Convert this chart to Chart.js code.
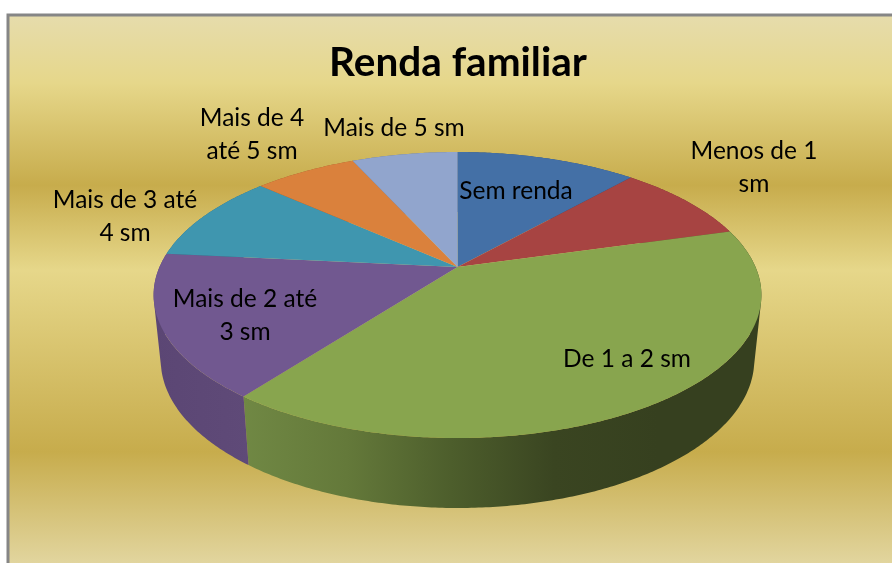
<!DOCTYPE html>
<html lang="en">
<head>
    <meta charset="UTF-8">
    <title>Renda familiar</title>
    <script src="https://cdn.jsdelivr.net/npm/chart.js"></script>
    <style>
        html, body { margin: 0; padding: 0; background: #fff; overflow: hidden; }
        canvas { display: block; }
    </style>
</head>
<body>
    <canvas id="rendaChart" width="892" height="563"></canvas>
    <script>
        // Values (percent)
        const categories = ['Sem renda', 'Menos de 1 sm', 'De 1 a 2 sm', 'Mais de 2 até 3 sm', 'Mais de 3 até 4 sm', 'Mais de 4 até 5 sm', 'Mais de 5 sm'];
        const shares = [11.6, 9, 39.7, 16.2, 10, 6.6, 6.8];
        const chartTitle = 'Renda familiar';

        const topColors = ['#4470A6', '#A74442', '#88A54E', '#715890', '#3F96AF', '#DA813C', '#91A5CD'];
        // wall shading, left to right
        const wallColors = [
            ['#2f4e74', '#2f4e74'],
            ['#742f2e', '#742f2e'],
            ['#708844', '#64793a', '#4d5e2c', '#3a4521', '#36401f', '#36401f'],
            ['#5b4674', '#5f4a78'],
            ['#2c687a', '#2c687a'],
            ['#98592a', '#98592a'],
            ['#65738f', '#65738f']
        ];

        // where each label sits, wrapped as in the original
        const labelPlaces = [
            { x: 516, y: 191, lines: ['Sem renda'] },
            { x: 754, y: 151, lines: ['Menos de 1', 'sm'] },
            { x: 627, y: 359, lines: ['De 1 a 2 sm'] },
            { x: 245, y: 299, lines: ['Mais de 2 até', '3 sm'] },
            { x: 125, y: 200, lines: ['Mais de 3 até', '4 sm'] },
            { x: 252, y: 118, lines: ['Mais de 4', 'até 5 sm'] },
            { x: 394, y: 128, lines: ['Mais de 5 sm'] }
        ];

        // Perspective of the disc: apex y, half axes, tilt
        const tilt = 0.196;
        const topDisc = { cx: 457.5, cy: 267, a: 298, b: 137.5 };
        const bottomDisc = { cx: 457.5, cy: 331, a: 291, b: 142.3 };

        function project(disc, angle) {
            const u = Math.cos(angle), v = Math.sin(angle);
            const w = 1 - tilt * v;
            return { x: disc.cx + disc.a * u / w, y: disc.cy + disc.b * v / w };
        }

        function arcPoints(disc, start, end) {
            const pts = [];
            const steps = Math.max(2, Math.ceil((end - start) / 0.01));
            for (let i = 0; i <= steps; i++) {
                pts.push(project(disc, start + (end - start) * i / steps));
            }
            return pts;
        }

        function addPolygon(ctx, pts) {
            pts.forEach((p, i) => i ? ctx.lineTo(p.x, p.y) : ctx.moveTo(p.x, p.y));
            ctx.closePath();
        }

        // same winding for every strip, so overlaps near the silhouette stay filled
        function clockwise(pts) {
            let area = 0;
            pts.forEach((p, i) => {
                const q = pts[(i + 1) % pts.length];
                area += p.x * q.y - q.x * p.y;
            });
            return area < 0 ? pts.slice().reverse() : pts;
        }

        // Gold office background and the grey frame
        const goldBackground = {
            id: 'goldBackground',
            beforeDraw(chart) {
                const ctx = chart.ctx;
                const left = 8, top = 15, bottom = 582;
                const grad = ctx.createLinearGradient(0, top, 0, bottom);
                grad.addColorStop(0, '#E6DCAC');
                grad.addColorStop(0.12, '#E6D78A');
                grad.addColorStop(0.30, '#C7AC4C');
                grad.addColorStop(0.45, '#E6D78A');
                grad.addColorStop(0.77, '#C7AC4C');
                grad.addColorStop(1, '#E6DCAC');
                ctx.save();
                ctx.fillStyle = grad;
                ctx.fillRect(left, top, chart.width - left, chart.height - top);
                ctx.strokeStyle = '#868686';
                ctx.lineWidth = 3;
                ctx.beginPath();
                ctx.moveTo(left, chart.height + 2);
                ctx.lineTo(left, top);
                ctx.lineTo(chart.width + 2, top);
                ctx.stroke();
                ctx.restore();
            }
        };

        // Draws the pie arcs in perspective, with their side walls
        const pie3d = {
            id: 'pie3d',
            beforeDatasetDraw(chart, args) {
                const ctx = chart.ctx;
                const arcs = args.meta.data;
                ctx.save();
                arcs.forEach((arc, i) => {
                    const upper = arcPoints(topDisc, arc.startAngle, arc.endAngle);
                    const lower = arcPoints(bottomDisc, arc.startAngle, arc.endAngle);
                    const xs = upper.concat(lower).map(p => p.x);
                    const grad = ctx.createLinearGradient(Math.min(...xs), 0, Math.max(...xs), 0);
                    wallColors[i].forEach((c, n) => grad.addColorStop(n / (wallColors[i].length - 1), c));
                    // wall as one path of strips, so the outline follows the silhouette
                    ctx.beginPath();
                    for (let n = 0; n < upper.length - 1; n++) {
                        addPolygon(ctx, clockwise([upper[n], upper[n + 1], lower[n + 1], lower[n]]));
                    }
                    ctx.fillStyle = grad;
                    ctx.fill();
                });
                arcs.forEach((arc, i) => {
                    const centre = { x: topDisc.cx, y: topDisc.cy };
                    ctx.beginPath();
                    addPolygon(ctx, [centre].concat(arcPoints(topDisc, arc.startAngle, arc.endAngle)));
                    ctx.fillStyle = topColors[i];
                    ctx.fill();
                });
                ctx.restore();
                return false;
            },
            afterDatasetsDraw(chart) {
                const ctx = chart.ctx;
                ctx.save();
                ctx.font = '24.5px Lato';
                ctx.fillStyle = '#000';
                ctx.textAlign = 'center';
                ctx.textBaseline = 'middle';
                labelPlaces.forEach(place => {
                    place.lines.forEach((line, n) => ctx.fillText(line, place.x, place.y + n * 33));
                });
                ctx.restore();
            }
        };

        new Chart(document.getElementById('rendaChart').getContext('2d'), {
            type: 'pie',
            data: {
                labels: categories,
                datasets: [{ data: shares, backgroundColor: topColors, borderWidth: 0 }]
            },
            plugins: [goldBackground, pie3d],
            options: {
                responsive: false,
                animation: false,
                layout: { padding: { left: 24 } },
                plugins: {
                    legend: { display: false },
                    tooltip: { enabled: false },
                    title: {
                        display: true,
                        text: chartTitle,
                        color: '#000',
                        font: { family: 'Lato', size: 40.5, weight: 'bold' },
                        padding: { top: 39, bottom: 10 }
                    }
                }
            }
        });
    </script>
</body>
</html>
